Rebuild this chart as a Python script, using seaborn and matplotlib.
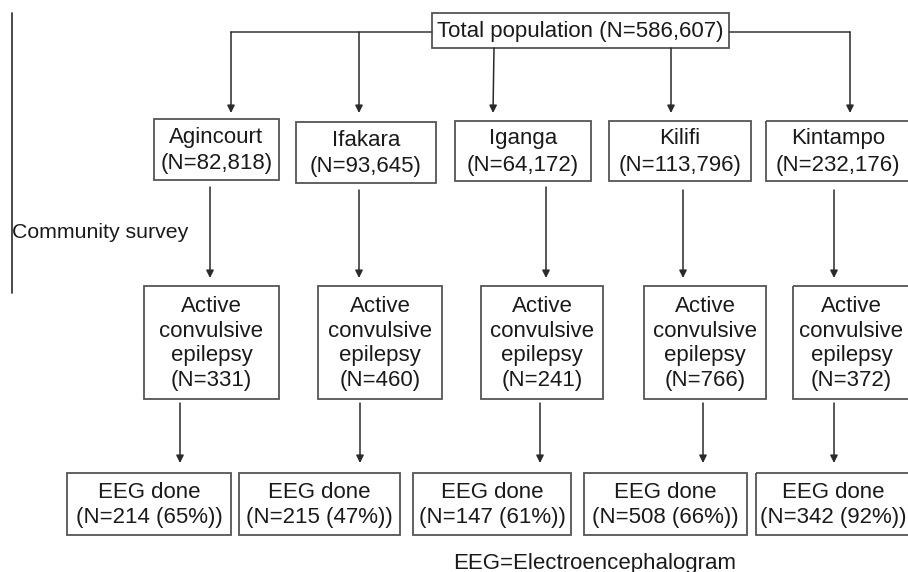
import matplotlib.pyplot as plt
import seaborn as sns
from matplotlib.patches import Rectangle

# data
sites = ["Agincourt", "Ifakara", "Iganga", "Kilifi", "Kintampo"]
site_n = ["82,818", "93,645", "64,172", "113,796", "232,176"]
ace_n = [331, 460, 241, 766, 372]
eeg_n = [214, 215, 147, 508, 342]
eeg_pct = [65, 47, 61, 66, 92]
total_n = "586,607"

# layout (pixel coordinates, y down)
site_x = [(154, 279), (296, 436), (455, 591), (609, 751), (766, 910)]
site_y = [(119, 180), (122, 183), (121, 181), (121, 181), (121, 181)]
ace_x = [(144, 279), (318, 442), (481, 603), (644, 766), (793, 910)]
ace_y = (286, 399)
eeg_x = [(67, 231), (239, 400), (413, 571), (584, 747), (756, 910)]
eeg_y = (473, 535)
top_arrow = [(231, 32, 231), (359, 32, 359), (494, 48, 493), (671, 48, 671), (850, 32, 850)]
mid_arrow_x = [210, 359, 546, 683, 834]
mid_arrow_y0 = [187, 190, 187, 190, 190]
low_arrow_x = [180, 360, 540, 703, 834]

sns.set_theme(style="white")
plt.rcParams["font.family"] = ["Liberation Sans", "DejaVu Sans"]

fig = plt.figure(figsize=(9.08, 5.72), dpi=100)
ax = fig.add_axes([0, 0, 1, 1])
ax.set_xlim(0, 908)
ax.set_ylim(572, 0)
ax.axis("off")

edge = "#555555"
txt = "#1a1a1a"
fs = 16


def box(x0, x1, y0, y1, label, ls=1.3):
    ax.add_patch(Rectangle((x0, y0), x1 - x0, y1 - y0, fill=False,
                           edgecolor=edge, linewidth=1.3, clip_on=False))
    ax.text((x0 + x1) / 2, (y0 + y1) / 2 + 1, label, ha="center", va="center",
            fontsize=fs, color=txt, linespacing=ls)


def arrow(x0, y0, x1, y1):
    ax.annotate("", xy=(x1, y1), xytext=(x0, y0),
                arrowprops=dict(arrowstyle="-|>", color="#2a2a2a", lw=1.1,
                                mutation_scale=11, shrinkA=0, shrinkB=0))


# side bracket and label
ax.plot([12, 12], [13, 293], color="#2a2a2a", lw=1.2)
ax.text(12, 233, "Community survey", ha="left", va="center", fontsize=15.3, color=txt)

# total box and branches
box(432, 729, 13, 48, f"Total population (N={total_n})")
ax.plot([231, 432], [32, 32], color="#444444", lw=1.2)
ax.plot([729, 850], [32, 32], color="#444444", lw=1.2)
for x0, y0, x1 in top_arrow:
    arrow(x0, y0, x1, 113)

for i, name in enumerate(sites):
    box(site_x[i][0], site_x[i][1], site_y[i][0], site_y[i][1],
        f"{name}\n(N={site_n[i]})", ls=1.35)
    arrow(mid_arrow_x[i], mid_arrow_y0[i], mid_arrow_x[i], 278)
    box(ace_x[i][0], ace_x[i][1], ace_y[0], ace_y[1],
        f"Active\nconvulsive\nepilepsy\n(N={ace_n[i]})", ls=1.22)
    arrow(low_arrow_x[i], 403, low_arrow_x[i], 463)
    box(eeg_x[i][0], eeg_x[i][1], eeg_y[0], eeg_y[1],
        f"EEG done\n(N={eeg_n[i]} ({eeg_pct[i]}%))", ls=1.3)

ax.text(595, 563, "EEG=Electroencephalogram", ha="center", va="center",
        fontsize=fs, color=txt)

fig.savefig("out.png", dpi=100)
